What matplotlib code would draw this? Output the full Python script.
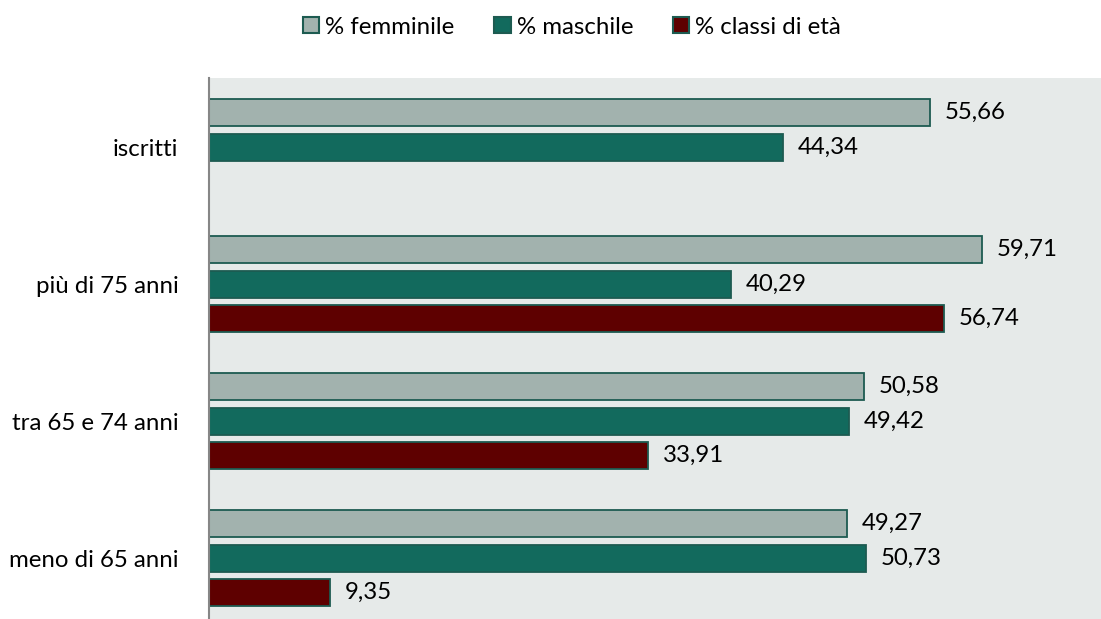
import matplotlib
matplotlib.use("Agg")
import matplotlib.pyplot as plt
from matplotlib.patches import Patch
import numpy as np

categories = ["meno di 65 anni", "tra 65 e 74 anni", "più di 75 anni", "iscritti"]
femminile = [49.27, 50.58, 59.71, 55.66]
maschile = [50.73, 49.42, 40.29, 44.34]
classi = [9.35, 33.91, 56.74, None]
series_names = ["% femminile", "% maschile", "% classi di età"]

col_f = "#A2B2AE"
col_m = "#126A5D"
col_c = "#5E0000"
edge = "#1D5B51"
bg = "#E6EAE9"

plt.rcParams['font.family'] = ['Lato', 'DejaVu Sans']
FS = 17.3

fig = plt.figure(figsize=(11.01, 6.19), dpi=100)
ax = fig.add_axes([209/1101, 0, 1 - 209/1101, (619-78)/619])
ax.set_facecolor(bg)

y = np.arange(len(categories))
off = 0.25
h = 0.197

def draw(vals, dy, color):
    for yi, v in zip(y, vals):
        if v is None:
            continue
        ax.barh(yi + dy, v, height=h, color=color, edgecolor=edge, linewidth=1.3)
        ax.text(v + 1.15, yi + dy, f"{v:.2f}".replace(".", ","), va="center", ha="left",
                fontsize=FS, color="black")

draw(femminile, off, col_f)
draw(maschile, 0, col_m)
draw(classi, -off, col_c)

ax.set_xlim(0, 68.9)
ax.set_ylim(-0.445, 3.504)
ax.set_yticks(y)
ax.set_yticklabels(categories, fontsize=FS)
ax.tick_params(axis='y', length=0, pad=22)
ax.set_xticks([])
for s in ["top", "right", "bottom"]:
    ax.spines[s].set_visible(False)
ax.spines["left"].set_color("#868686")
ax.spines["left"].set_linewidth(1.5)

handles = [Patch(facecolor=c, edgecolor=edge, linewidth=1.5) for c in (col_f, col_m, col_c)]
fig.legend(handles, series_names, loc="center", bbox_to_anchor=(0.5195, 1 - 27/619), ncol=3,
           frameon=False, fontsize=FS, handlelength=0.67, handleheight=0.67,
           handletextpad=0.25, columnspacing=1.67)

fig.savefig("out.png", dpi=100)
